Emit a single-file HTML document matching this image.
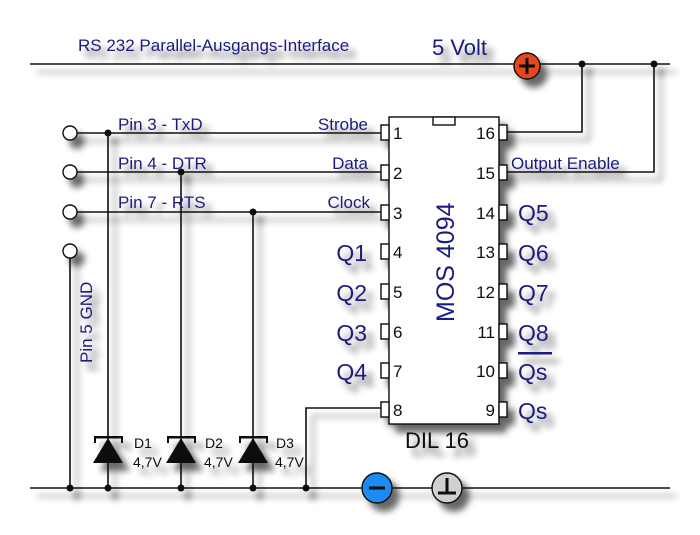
<!DOCTYPE html>
<html><head><style>
body{margin:0;background:#fff;}
svg{display:block;}
.b{font-family:"Liberation Sans",sans-serif;fill:#1a1a80;}
.k{font-family:"Liberation Sans",sans-serif;fill:#111;}
</style></head><body>
<svg width="700" height="535" viewBox="0 0 700 535" xmlns="http://www.w3.org/2000/svg">
<defs>
<filter id="sh" filterUnits="userSpaceOnUse" x="0" y="0" width="700" height="535">
<feGaussianBlur in="SourceAlpha" stdDeviation="3.5"/>
<feOffset dx="7" dy="8" result="o"/>
<feComponentTransfer><feFuncA type="linear" slope="0.6"/></feComponentTransfer>
<feMerge><feMergeNode/><feMergeNode in="SourceGraphic"/></feMerge>
</filter>
</defs>
<g filter="url(#sh)">
<g stroke="#111" stroke-width="1.6" fill="none">
<line x1="30" y1="64" x2="670" y2="64"/>
<line x1="30" y1="488" x2="670" y2="488"/>
<polyline points="507,132 582,132 582,64"/>
<polyline points="507,172 654,172 654,64"/>
<line x1="77" y1="133" x2="381" y2="133"/>
<line x1="77" y1="172" x2="381" y2="172"/>
<line x1="77" y1="212" x2="381" y2="212"/>
<line x1="70" y1="258" x2="70" y2="488"/>
<line x1="108" y1="133" x2="108" y2="488"/>
<line x1="181" y1="172" x2="181" y2="488"/>
<line x1="253" y1="212" x2="253" y2="488"/>
<polyline points="381,408 306,408 306,488"/>
</g>
<g fill="#111">
<circle cx="582" cy="64" r="3.5"/><circle cx="654" cy="64" r="3.5"/>
<circle cx="108" cy="133" r="3.5"/><circle cx="181" cy="172" r="3.5"/><circle cx="253" cy="212" r="3.5"/>
<circle cx="70" cy="488" r="3.5"/><circle cx="108" cy="488" r="3.5"/><circle cx="181" cy="488" r="3.5"/><circle cx="253" cy="488" r="3.5"/><circle cx="306" cy="488" r="3.5"/>
<g id="d"><rect x="94" y="436" width="29" height="2.5"/><line x1="95" y1="437" x2="95" y2="443" stroke="#111" stroke-width="2"/><line x1="122" y1="437" x2="122" y2="443" stroke="#111" stroke-width="2"/><polygon points="108,438 93,463 123,463"/></g>
<use href="#d" x="73"/><use href="#d" x="145"/>
</g>
<g stroke="#111" stroke-width="1.4" fill="#fff">
<circle cx="70" cy="133" r="7"/><circle cx="70" cy="172" r="7"/><circle cx="70" cy="212" r="7"/><circle cx="70" cy="251" r="7"/>
<rect x="389" y="117" width="110" height="307"/>
<rect x="433" y="117" width="22" height="8"/>
<rect x="381" y="125" width="8" height="15"/><rect x="381" y="165" width="8" height="15"/><rect x="381" y="205" width="8" height="15"/><rect x="381" y="244" width="8" height="15"/>
<rect x="381" y="284" width="8" height="15"/><rect x="381" y="324" width="8" height="15"/><rect x="381" y="363" width="8" height="15"/><rect x="381" y="402" width="8" height="15"/>
<rect x="499" y="125" width="8" height="15"/><rect x="499" y="165" width="8" height="15"/><rect x="499" y="205" width="8" height="15"/><rect x="499" y="244" width="8" height="15"/>
<rect x="499" y="284" width="8" height="15"/><rect x="499" y="324" width="8" height="15"/><rect x="499" y="363" width="8" height="15"/><rect x="499" y="402" width="8" height="15"/>
<circle cx="527" cy="66" r="13" fill="#e8461c"/>
<circle cx="377" cy="488" r="15" fill="#1a8cf0"/>
<circle cx="447" cy="488" r="15" fill="#d0d0d0"/>
</g>
<g stroke="#111" stroke-width="3">
<line x1="527" y1="58" x2="527" y2="74"/><line x1="519" y1="66" x2="535" y2="66"/>
<line x1="369" y1="488" x2="385" y2="488"/>
<line x1="447" y1="478" x2="447" y2="492"/><line x1="438" y1="493" x2="456" y2="493"/>
</g>
<g class="b" font-size="17">
<text x="78" y="51" font-size="17">RS 232 Parallel-Ausgangs-Interface</text>
<text x="432" y="55" font-size="22">5 Volt</text>
<text x="118" y="130">Pin 3 - TxD</text>
<text x="118" y="169">Pin 4 - DTR</text>
<text x="118" y="208">Pin 7 - RTS</text>
<text x="368" y="130" text-anchor="end">Strobe</text>
<text x="368" y="169" text-anchor="end">Data</text>
<text x="370" y="208" text-anchor="end">Clock</text>
<text x="511" y="169">Output Enable</text>
<text transform="translate(92,363) rotate(-90)" font-size="17">Pin 5 GND</text>
<g font-size="23">
<text x="367" y="261" text-anchor="end">Q1</text><text x="367" y="301" text-anchor="end">Q2</text>
<text x="367" y="341" text-anchor="end">Q3</text><text x="367" y="380" text-anchor="end">Q4</text>
<text x="518" y="221">Q5</text><text x="518" y="261">Q6</text><text x="518" y="301">Q7</text>
<text x="518" y="341">Q8</text><text x="518" y="380">Qs</text><text x="518" y="419">Qs</text>
</g>
<text transform="translate(454,322) rotate(-90)" font-size="25">MOS 4094</text>
<rect x="518" y="352" width="34" height="2.5"/>
</g>
<g class="k" font-size="17">
<text x="393" y="139">1</text><text x="393" y="179">2</text><text x="393" y="219">3</text><text x="393" y="258">4</text>
<text x="393" y="298">5</text><text x="393" y="338">6</text><text x="393" y="377">7</text><text x="393" y="416">8</text>
<g text-anchor="end"><text x="495" y="139">16</text><text x="495" y="179">15</text><text x="495" y="219">14</text><text x="495" y="258">13</text>
<text x="495" y="298">12</text><text x="495" y="338">11</text><text x="495" y="377">10</text><text x="495" y="416">9</text></g>
<text x="405" y="448" font-size="22">DIL 16</text>
<g font-size="14"><text x="134" y="448">D1</text><text x="133" y="467">4,7V</text>
<text x="205" y="448">D2</text><text x="204" y="467">4,7V</text>
<text x="276" y="448">D3</text><text x="275" y="467">4,7V</text></g>
</g>
</g>
</svg>
</body></html>
